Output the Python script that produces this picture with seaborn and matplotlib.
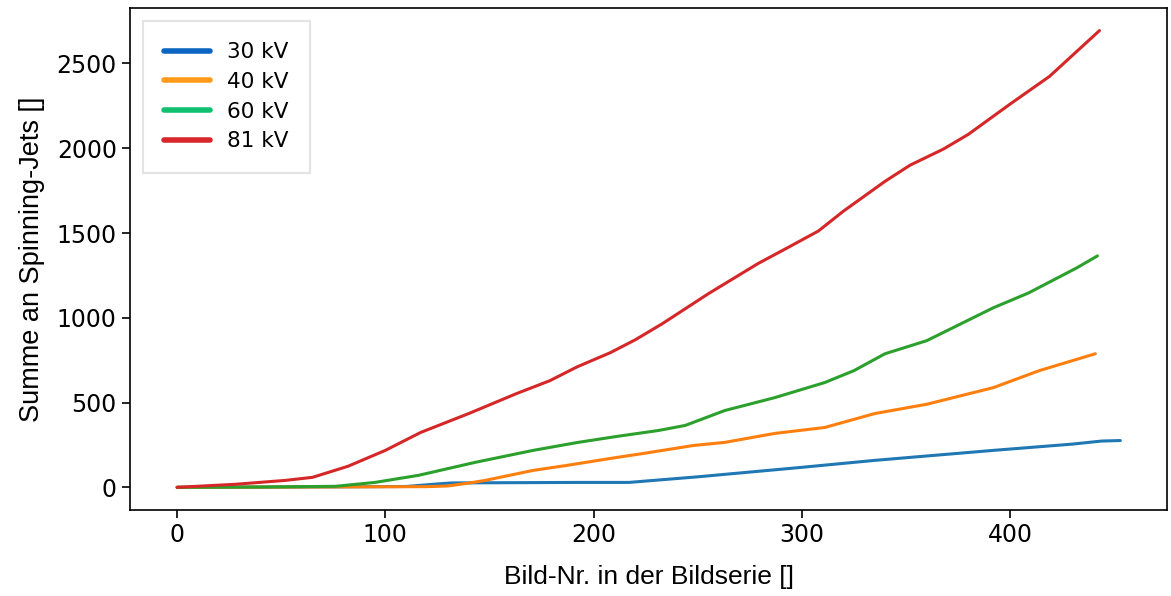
import pandas as pd
import matplotlib.pyplot as plt
from matplotlib.lines import Line2D
import seaborn as sns

# values
x_30 = [0, 60, 110, 125, 132, 192, 217, 250, 300, 335, 392, 430, 444, 453]
y_30 = [0, 2, 5, 20, 26, 29, 29, 62, 118, 159, 218, 255, 273, 276]

x_40 = [0, 60, 120, 130, 140, 148, 171, 187, 211, 224, 248, 263, 287, 311, 335, 360, 392, 414, 441]
y_40 = [0, 2, 4, 8, 25, 41, 100, 129, 176, 200, 247, 265, 318, 353, 435, 490, 588, 688, 788]

x_60 = [0, 40, 76, 95, 116, 143, 171, 192, 211, 231, 244, 263, 287, 311, 325, 340, 360, 392, 409, 432, 442]
y_60 = [0, 2, 6, 29, 71, 147, 218, 264, 300, 335, 365, 453, 529, 618, 688, 788, 865, 1059, 1147, 1294, 1365]

x_81 = [0, 28, 52, 65, 82, 100, 117, 140, 163, 179, 192, 208, 220, 233, 255, 279, 293, 308, 320,
        340, 352, 368, 380, 400, 419, 443]
y_81 = [0, 18, 41, 59, 124, 218, 324, 435, 553, 629, 710, 794, 870, 965, 1141, 1320, 1412, 1512, 1629,
        1805, 1900, 1995, 2082, 2260, 2424, 2694]

labels = ['30 kV', '40 kV', '60 kV', '81 kV']
line_colors = ['#1f77b4', '#ff7f0e', '#2ca02c', '#d62728']
legend_colors = ['#0a66c2', '#ff9a1a', '#10c070', '#d8262b']

frames = []
for lab, xs, ys in zip(labels, [x_30, x_40, x_60, x_81], [y_30, y_40, y_60, y_81]):
    frames.append(pd.DataFrame({'bild': xs, 'summe': ys, 'spannung': lab}))
df = pd.concat(frames, ignore_index=True)

sns.set_style('ticks')
plt.rcParams['font.family'] = ['DejaVu Sans']
plt.rcParams['text.color'] = 'black'
plt.rcParams['axes.labelcolor'] = 'black'
plt.rcParams['xtick.color'] = 'black'
plt.rcParams['ytick.color'] = 'black'
plt.rcParams['axes.edgecolor'] = 'black'

fig = plt.figure(figsize=(11.71, 5.96), dpi=100)
ax = fig.add_axes([0.111, 0.144, 0.886, 0.843])

sns.lineplot(data=df, x='bild', y='summe', hue='spannung', palette=line_colors,
             linewidth=2.2, legend=False, ax=ax)

ax.set_xlabel('Bild-Nr. in der Bildserie []', fontsize=19, family='Liberation Sans', labelpad=13)
ax.set_ylabel('Summe an Spinning-Jets []', fontsize=19.5, family='Liberation Sans', labelpad=8)
ax.set_yticks([0, 500, 1000, 1500, 2000, 2500])
ax.set_xticks([0, 100, 200, 300, 400])
ax.tick_params(labelsize=17, length=6, width=1.2)
for s in ax.spines.values():
    s.set_linewidth(1.2)
ax.margins(x=0.05, y=0.05)

handles = [Line2D([0], [0], color=c, lw=4) for c in legend_colors]
leg = ax.legend(handles, labels, loc='upper left', fontsize=15.5, frameon=True,
                fancybox=False, edgecolor='#dddddd', borderpad=1.0, labelspacing=0.45,
                handlelength=2.1, borderaxespad=0.6)
leg.get_frame().set_linewidth(1.5)

fig.savefig('out.png', dpi=100)
